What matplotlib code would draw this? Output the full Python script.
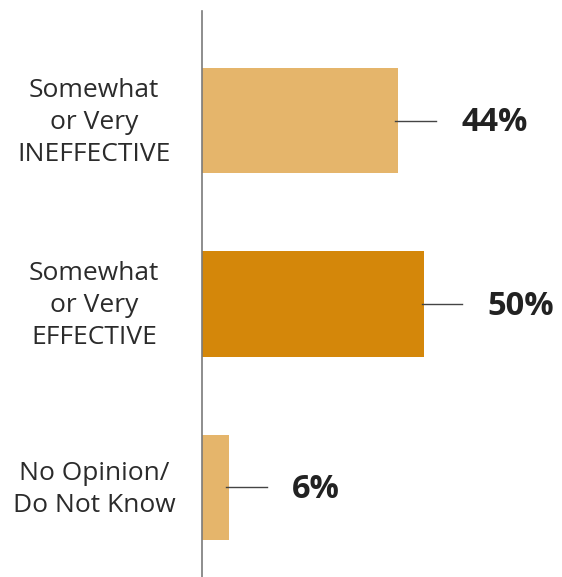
import matplotlib
matplotlib.use("Agg")
import matplotlib.pyplot as plt

categories = ["Somewhat\nor Very\nINEFFECTIVE", "Somewhat\nor Very\nEFFECTIVE", "No Opinion/\nDo Not Know"]
values = [44, 50, 6]
colors = ["#E5B56B", "#D4870A", "#E5B56B"]

plt.rcParams['font.family'] = ['Open Sans', 'DejaVu Sans']

fig = plt.figure(figsize=(5.62, 5.77), dpi=100)
ax = fig.add_axes([202 / 562, 0, 360 / 562, 566 / 577])

ypos = list(range(len(values)))
ax.barh(ypos, values, height=0.574, color=colors, zorder=2)

for y, v, lab in zip(ypos, values, categories):
    # leader line and value label
    ax.plot([v - 0.5, v + 8.6], [y, y], color="#444444", lw=1, zorder=3)
    ax.text(v + 14.3, y + 0.012, f"{v}%", va="center", ha="left", fontsize=23.5,
            fontweight="bold", color="#222222")
    ax.text(-24.3, y + 0.01, lab, va="center", ha="center", fontsize=19,
            color="#2b2b2b", linespacing=1.36)

ax.set_xlim(0, 81)
ax.set_ylim(2.489, -0.598)
for s in ["top", "right", "bottom"]:
    ax.spines[s].set_visible(False)
ax.spines["left"].set_color("#7a7a7a")
ax.spines["left"].set_linewidth(1.2)
ax.set_xticks([])
ax.set_yticks([])

fig.savefig("out.png", dpi=100)
